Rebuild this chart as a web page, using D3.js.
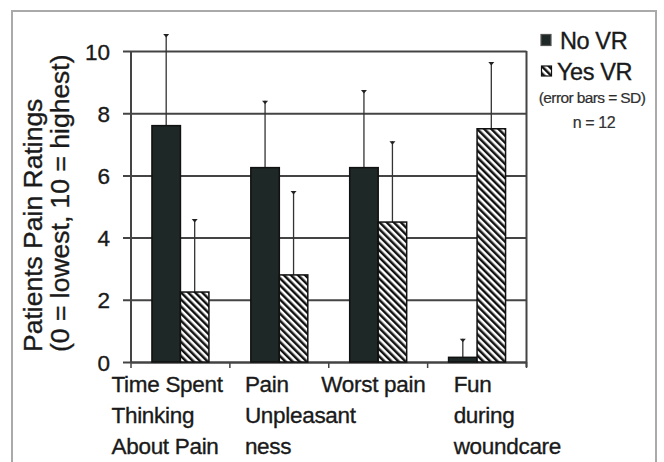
<!DOCTYPE html>
<html>
<head>
<meta charset="utf-8">
<script src="https://cdn.jsdelivr.net/npm/d3@7"></script>
<style>
  body { margin: 0; background: #fff; }
  svg { display: block; font-family: "Liberation Sans", Arial, sans-serif; }
  svg text { stroke: #1a1a1a; stroke-width: 0.35px; }
</style>
</head>
<body>
<div id="chart"></div>
<script>
// data
var categories = ["Time Spent Thinking About Pain", "Pain Unpleasantness", "Worst pain", "Fun during woundcare"];
var categoryLines = [
  ["Time Spent", "Thinking", "About Pain"],
  ["Pain", "Unpleasant", "ness"],
  ["Worst pain"],
  ["Fun", "during", "woundcare"]
];
var series = ["No VR", "Yes VR"];
var noVR = [7.6, 6.25, 6.25, 0.15];
var yesVR = [2.25, 2.8, 4.5, 7.5];
var noVRsd = [2.95, 2.15, 2.5, 0.6];
var yesVRsd = [2.35, 2.7, 2.6, 2.15];
var yTicks = [0, 2, 4, 6, 8, 10];

// layout
var W = 664, H = 462;
var plotLeft = 131, plotRight = 526.5, plotTop = 51, plotBottom = 362;
var labelDx = [-19.5, 15, -7.5, 26];
var ink = "#1a1a1a";
var grid = "#444";
var dark = "#1e2826";

var svg = d3.select("#chart").append("svg")
  .attr("width", W)
  .attr("height", H);

var defs = svg.append("defs");
defs.append("pattern")
  .attr("id", "hatch")
  .attr("patternUnits", "userSpaceOnUse")
  .attr("width", 5)
  .attr("height", 5)
  .attr("patternTransform", "rotate(-45)")
  .call(function (p) {
    p.append("rect").attr("width", 5).attr("height", 5).attr("fill", "#fff");
    p.append("rect").attr("x", 0).attr("width", 2.5).attr("height", 5).attr("fill", "#111");
  });

// outer frame of the figure
svg.append("rect")
  .attr("x", 12).attr("y", 11)
  .attr("width", 644).attr("height", 470)
  .attr("fill", "none")
  .attr("stroke", "#aaa")
  .attr("stroke-width", 2);

var x0 = d3.scaleBand().domain(categories).range([plotLeft, plotRight]).padding(0);
var x1 = d3.scaleBand().domain(series).range([0, x0.bandwidth()])
  .paddingInner(0).paddingOuter(0.735);
var y = d3.scaleLinear().domain([0, 10]).range([plotBottom, plotTop]);

// gridlines + y labels
var yAxis = svg.append("g")
  .attr("transform", "translate(" + (plotLeft - 8) + ",0)")
  .call(d3.axisLeft(y).tickValues(yTicks).tickSize(-(plotRight - plotLeft + 8)).tickPadding(13));
yAxis.select(".domain").remove();
yAxis.selectAll(".tick line").attr("stroke", grid).attr("stroke-width", 2);
yAxis.selectAll(".tick text")
  .attr("fill", ink)
  .style("font-size", "22.5px")
  .attr("dy", "0.36em");
yAxis.attr("font-family", null).attr("font-size", null);

// left axis and right border
svg.append("line")
  .attr("x1", plotLeft).attr("x2", plotLeft)
  .attr("y1", plotTop).attr("y2", plotBottom)
  .attr("stroke", grid).attr("stroke-width", 2);
svg.append("line")
  .attr("x1", plotRight).attr("x2", plotRight)
  .attr("y1", plotTop).attr("y2", plotBottom + 5)
  .attr("stroke", grid).attr("stroke-width", 2);

// x axis with ticks at the category boundaries
var xAxis = svg.append("g")
  .attr("transform", "translate(0," + plotBottom + ")")
  .call(d3.axisBottom(x0).tickSize(0).tickFormat(""));
xAxis.select(".domain").attr("stroke", grid).attr("stroke-width", 2);
var bounds = categories.map(function (c) { return x0(c); }).concat([plotRight]);
svg.selectAll(".xtick")
  .data(bounds)
  .enter()
  .append("line")
  .attr("class", "xtick")
  .attr("x1", function (d) { return d; })
  .attr("x2", function (d) { return d; })
  .attr("y1", plotBottom)
  .attr("y2", plotBottom + 6)
  .attr("stroke", grid)
  .attr("stroke-width", 1.5);

// bars
var rows = categories.map(function (c, i) {
  return [
    { cat: c, s: "No VR", v: noVR[i], sd: noVRsd[i] },
    { cat: c, s: "Yes VR", v: yesVR[i], sd: yesVRsd[i] }
  ];
});
var flat = d3.merge(rows);

// error bars (drawn first so the bars sit on top)
var err = svg.append("g").selectAll("g")
  .data(flat)
  .enter()
  .append("g")
  .attr("transform", function (d) {
    return "translate(" + (x0(d.cat) + x1(d.s) + x1.bandwidth() / 2) + ",0)";
  });
err.append("line")
  .attr("y1", function (d) { return y(d.v); })
  .attr("y2", function (d) { return y(d.v + d.sd); })
  .attr("stroke", "#333")
  .attr("stroke-width", 1.3);
err.append("path")
  .attr("d", function (d) {
    var t = y(d.v + d.sd);
    return "M-3," + t + "L3," + t + "L0," + (t + 3.5) + "Z";
  })
  .attr("fill", "#222");

svg.append("g").selectAll("rect")
  .data(flat)
  .enter()
  .append("rect")
  .attr("x", function (d) { return x0(d.cat) + x1(d.s); })
  .attr("y", function (d) { return y(d.v); })
  .attr("width", x1.bandwidth())
  .attr("height", function (d) { return plotBottom - y(d.v); })
  .attr("fill", function (d) { return d.s === "No VR" ? dark : "url(#hatch)"; })
  .attr("stroke", "#111")
  .attr("stroke-width", 1.5);

// category labels
var lab = svg.append("g").selectAll("text")
  .data(categories)
  .enter()
  .append("text")
  .attr("fill", ink)
  .style("font-size", "22.5px")
  .style("letter-spacing", "-0.3px")
  .attr("x", function (d, i) { return x0(d) + labelDx[i]; })
  .attr("y", 391.5);
lab.selectAll("tspan")
  .data(function (d, i) { return categoryLines[i]; })
  .enter()
  .append("tspan")
  .attr("x", function () { return d3.select(this.parentNode).attr("x"); })
  .attr("dy", function (d, i) { return i === 0 ? 0 : 31.3; })
  .text(function (d) { return d; });

// y axis title
var title = svg.append("text")
  .attr("transform", "translate(0,352) rotate(-90)")
  .attr("fill", ink)
  .style("font-size", "26.5px");
title.append("tspan").attr("x", 0).attr("y", 42).text("Patients Pain Ratings");
title.append("tspan").attr("x", 0).attr("y", 69).text("(0 = lowest, 10 = highest)");

// legend
var legend = svg.append("g");
legend.append("rect")
  .attr("x", 541).attr("y", 34.5).attr("width", 10).attr("height", 11)
  .attr("fill", dark).attr("stroke", "#555").attr("stroke-width", 1.2);
legend.append("text")
  .attr("x", 560).attr("y", 48.5)
  .attr("fill", ink)
  .style("font-size", "23.5px")
  .style("letter-spacing", "-0.4px")
  .text(series[0]);
legend.append("rect")
  .attr("x", 541.5).attr("y", 66).attr("width", 10).attr("height", 10)
  .attr("fill", "url(#hatch)").attr("stroke", "#111").attr("stroke-width", 1.2);
legend.append("text")
  .attr("x", 557).attr("y", 80)
  .attr("fill", ink)
  .style("font-size", "23.5px")
  .style("letter-spacing", "-0.4px")
  .text(series[1]);
legend.append("text")
  .attr("x", 592).attr("y", 103)
  .attr("text-anchor", "middle")
  .attr("fill", "#333")
  .style("font-size", "15.5px")
  .style("letter-spacing", "-0.6px")
  .style("stroke-width", "0.2px")
  .text("(error bars = SD)");
legend.append("text")
  .attr("x", 594).attr("y", 128)
  .attr("text-anchor", "middle")
  .attr("fill", "#333")
  .style("font-size", "16px")
  .style("letter-spacing", "-0.4px")
  .style("stroke-width", "0.2px")
  .text("n = 12");
</script>
</body>
</html>
